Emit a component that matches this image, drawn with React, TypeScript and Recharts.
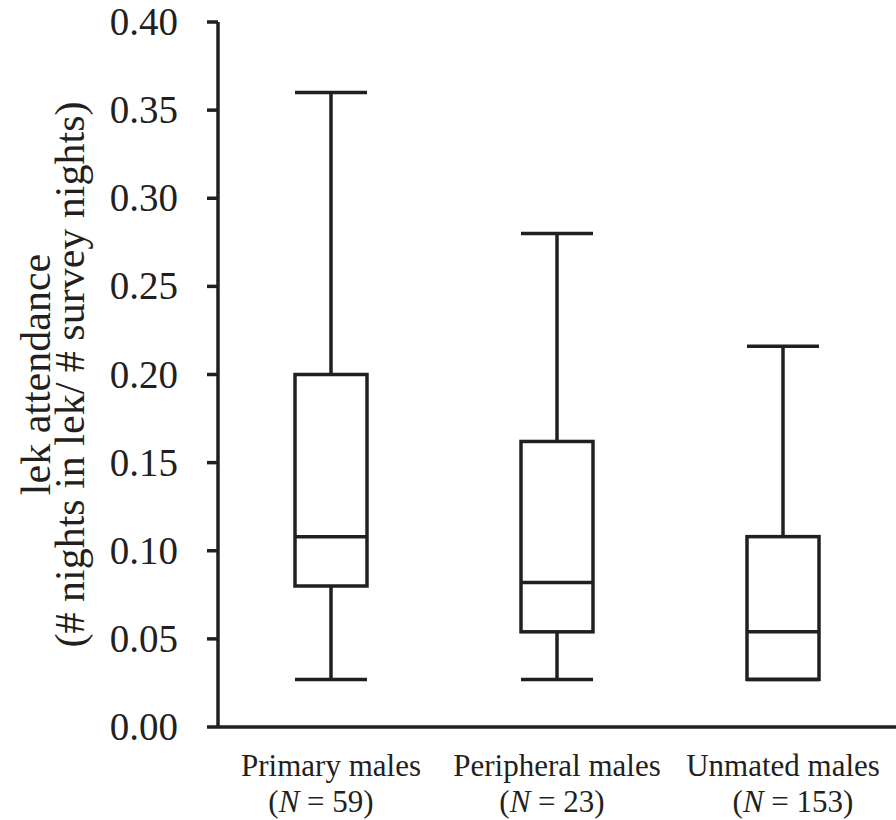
import React from 'react';
import { ComposedChart, Bar, XAxis, YAxis } from 'recharts';

const categories = ['Primary males', 'Peripheral males', 'Unmated males'];
const sampleSizes = ['59', '23', '153'];
const whiskerLow = [0.027, 0.027, 0.027];
const quartile1 = [0.08, 0.054, 0.027];
const medians = [0.108, 0.082, 0.054];
const quartile3 = [0.2, 0.162, 0.108];
const whiskerHigh = [0.36, 0.28, 0.216];
const yTicks = [0, 0.05, 0.1, 0.15, 0.2, 0.25, 0.3, 0.35, 0.4];

const data = categories.map((name, i) => ({
  name,
  n: sampleSizes[i],
  range: [whiskerLow[i], whiskerHigh[i]],
  lo: whiskerLow[i],
  q1: quartile1[i],
  med: medians[i],
  q3: quartile3[i],
  hi: whiskerHigh[i],
}));

const INK = '#231f20';
const FONT = '"Liberation Serif", "Times New Roman", serif';
const SW = 3.5;

const BoxShape = (props: any) => {
  const { x, y, width, height, payload } = props;
  const top = Math.min(y, y + height);
  const bottom = Math.max(y, y + height);
  const { lo, q1, med, q3, hi } = payload;
  const px = (v: number) => top + (bottom - top) * (hi - v) / (hi - lo);
  const cx = x + width / 2;
  const yq1 = px(q1);
  const yq3 = px(q3);
  const ymed = px(med);
  const yhi = px(hi);
  const ylo = px(lo);
  return (
    <g stroke={INK} strokeWidth={SW} fill="none">
      <line x1={x} x2={x + width} y1={yhi} y2={yhi} />
      <line x1={cx} x2={cx} y1={yhi} y2={yq3} />
      <rect x={x} y={yq3} width={width} height={yq1 - yq3} fill="#fff" />
      <line x1={x} x2={x + width} y1={ymed} y2={ymed} />
      <line x1={cx} x2={cx} y1={yq1} y2={ylo} />
      <line x1={x} x2={x + width} y1={ylo} y2={ylo} />
    </g>
  );
};

const line2Offsets = [-10, -5, 10];

const CategoryTick = (props: any) => {
  const { x, y, payload, index } = props;
  const n = sampleSizes[index];
  return (
    <g>
      <text x={x} y={y + 49} textAnchor="middle" style={{ fontFamily: FONT, fontSize: 31 }} fill={INK}>
        {payload.value}
      </text>
      <text x={x + line2Offsets[index]} y={y + 85} textAnchor="middle" style={{ fontFamily: FONT, fontSize: 31 }} fill={INK}>
        (<tspan fontStyle="italic">N</tspan> = {n})
      </text>
    </g>
  );
};

const YTick = (props: any) => {
  const { x, y, payload } = props;
  return (
    <text x={x} y={y} dy={13} textAnchor="end" style={{ fontFamily: FONT, fontSize: 39 }} fill={INK}>
      {Number(payload.value).toFixed(2)}
    </text>
  );
};

const YLabel = (props: any) => {
  const { viewBox } = props;
  const cy = viewBox.y + viewBox.height / 2;
  const x1 = 50;
  const x2 = 84;
  return (
    <g>
      <text x={x1} y={cy} transform={`rotate(-90, ${x1}, ${cy})`} textAnchor="middle" style={{ fontFamily: FONT, fontSize: 42 }} fill={INK}>
        lek attendance
      </text>
      <text x={x2} y={cy} transform={`rotate(-90, ${x2}, ${cy})`} textAnchor="middle" style={{ fontFamily: FONT, fontSize: 42 }} fill={INK}>
        (# nights in lek/ # survey nights)
      </text>
    </g>
  );
};

export default function App() {
  return (
    <div style={{ position: 'absolute', left: 0, top: 0, width: 896, height: 820, background: '#fff', fontFamily: FONT }}>
      <ComposedChart
        width={896}
        height={820}
        data={data}
        margin={{ top: 22, right: 0, bottom: 0, left: 0 }}
        style={{ fontFamily: FONT }}
      >
        <XAxis
          dataKey="name"
          height={93}
          axisLine={{ stroke: INK, strokeWidth: SW }}
          tickLine={false}
          tickSize={0}
          tickMargin={0}
          tick={<CategoryTick />}
          interval={0}
        />
        <YAxis
          width={218}
          domain={[0, 0.4]}
          ticks={yTicks}
          type="number"
          allowDataOverflow
          axisLine={{ stroke: INK, strokeWidth: SW }}
          tickLine={{ stroke: INK, strokeWidth: SW }}
          tickSize={11}
          tickMargin={29}
          tick={<YTick />}
          label={{ content: <YLabel /> }}
        />
        <Bar dataKey="range" barSize={72} shape={<BoxShape />} isAnimationActive={false} />
      </ComposedChart>
    </div>
  );
}
